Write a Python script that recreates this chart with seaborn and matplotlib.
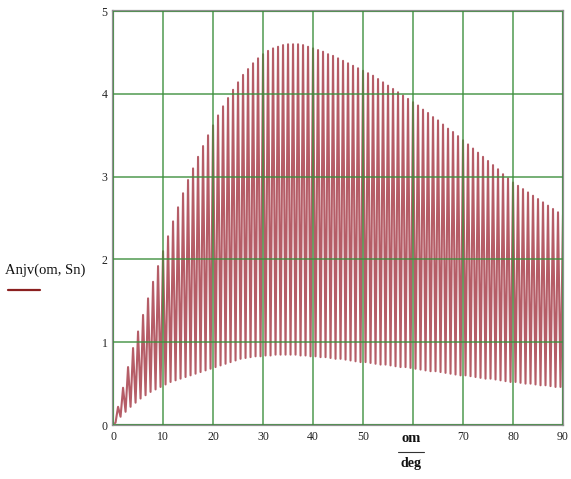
import numpy as np
import pandas as pd
import matplotlib
matplotlib.use("Agg")
import matplotlib.pyplot as plt
import seaborn as sns

# ---- data ----
# upper peaks at om = 0, 1, ..., 90
om_peak = np.arange(0, 91)
anjv_peak = [
    0.00, 0.22, 0.45, 0.70, 0.93, 1.13, 1.33, 1.53, 1.73, 1.92,
    2.10, 2.28, 2.46, 2.63, 2.80, 2.96, 3.10, 3.24, 3.37, 3.50,
    3.62, 3.74, 3.85, 3.95, 4.05, 4.14, 4.23, 4.30, 4.37, 4.43,
    4.48, 4.52, 4.55, 4.57, 4.59, 4.60, 4.60, 4.60, 4.59, 4.57,
    4.55, 4.53, 4.51, 4.48, 4.46, 4.43, 4.40, 4.37, 4.34, 4.31,
    4.28, 4.25, 4.22, 4.18, 4.14, 4.10, 4.06, 4.02, 3.98, 3.94,
    3.90, 3.86, 3.81, 3.77, 3.72, 3.68, 3.63, 3.58, 3.54, 3.49,
    3.44, 3.39, 3.34, 3.29, 3.24, 3.19, 3.14, 3.09, 3.03, 2.98,
    2.93, 2.89, 2.85, 2.81, 2.77, 2.73, 2.69, 2.65, 2.61, 2.57,
    2.54,
]
# lower troughs at om = 0.5, 1.5, ..., 89.5
om_trough = np.arange(0.5, 90, 1.0)
anjv_trough = [
    0.03, 0.10, 0.16, 0.22, 0.27, 0.32, 0.36, 0.40, 0.43, 0.46,
    0.49, 0.52, 0.54, 0.56, 0.58, 0.60, 0.62, 0.64, 0.66, 0.68,
    0.70, 0.72, 0.74, 0.76, 0.78, 0.80, 0.81, 0.82, 0.83, 0.83,
    0.84, 0.84, 0.85, 0.85, 0.85, 0.85, 0.85, 0.84, 0.84, 0.83,
    0.83, 0.82, 0.82, 0.81, 0.80, 0.80, 0.79, 0.78, 0.77, 0.76,
    0.76, 0.75, 0.74, 0.73, 0.73, 0.72, 0.71, 0.70, 0.70, 0.69,
    0.68, 0.67, 0.66, 0.65, 0.65, 0.64, 0.63, 0.62, 0.61, 0.60,
    0.60, 0.59, 0.58, 0.57, 0.56, 0.56, 0.55, 0.54, 0.53, 0.52,
    0.52, 0.51, 0.50, 0.50, 0.49, 0.48, 0.48, 0.47, 0.46, 0.46,
]
x_ticks = [0, 10, 20, 30, 40, 50, 60, 70, 80, 90]
x_ticklabels = ["0", "10", "20", "30", "40", "50", "", "70", "80", "90"]
y_ticks = [0, 1, 2, 3, 4, 5]
y_ticklabels = ["0", "1", "2", "3", "4", "5"]

df = pd.DataFrame({
    "om": np.concatenate([om_peak, om_trough]),
    "Anjv": np.concatenate([anjv_peak, anjv_trough]),
}).sort_values("om").reset_index(drop=True)

# ---- plotting ----
sns.set_style("white")
plt.rcParams["font.family"] = ["Liberation Serif", "DejaVu Serif"]

fig = plt.figure(figsize=(5.71, 4.79), dpi=100)
ax = fig.add_axes([0.198, 0.1127, 0.788, 0.864])

line_color = "#a8404c"
sns.lineplot(data=df, x="om", y="Anjv", ax=ax, estimator=None, sort=False,
             color=line_color, linewidth=1.5, alpha=0.85, zorder=2)

ax.set_xlim(0, 90)
ax.set_ylim(0, 5)
ax.set_xticks(x_ticks)
ax.set_xticklabels(x_ticklabels)
ax.set_yticks(y_ticks)
ax.set_yticklabels(y_ticklabels)
ax.tick_params(axis="both", length=0, labelsize=8.5, colors="#222222", pad=4)

ax.grid(True, color="#3d8f3d", linewidth=1.1, alpha=0.9)
ax.set_axisbelow(False)
for sp in ax.spines.values():
    sp.set_color("#909090")
    sp.set_linewidth(1.6)

ax.set_xlabel("")
ax.set_ylabel("")

# y-axis label with legend line (Mathcad style)
fig.text(5 / 571, 1 - 270 / 479, "Anjv(om, Sn)", fontsize=10.5, ha="left", va="center",
         color="#111111")
fig.add_artist(plt.Line2D([8 / 571, 40 / 571], [1 - 290 / 479, 1 - 290 / 479],
                          color="#8b2020", linewidth=1.6, transform=fig.transFigure))

# x-axis label "om / deg"
fig.text(411 / 571, 1 - 439 / 479, "om", fontsize=10.5, ha="center", va="center",
         color="#111111", fontweight="bold")
fig.add_artist(plt.Line2D([398 / 571, 424 / 571], [1 - 452 / 479, 1 - 452 / 479],
                          color="#333333", linewidth=0.8, transform=fig.transFigure))
fig.text(411 / 571, 1 - 464 / 479, "deg", fontsize=10, ha="center", va="center",
         color="#111111", fontweight="bold")

fig.savefig("out.png", dpi=100)
